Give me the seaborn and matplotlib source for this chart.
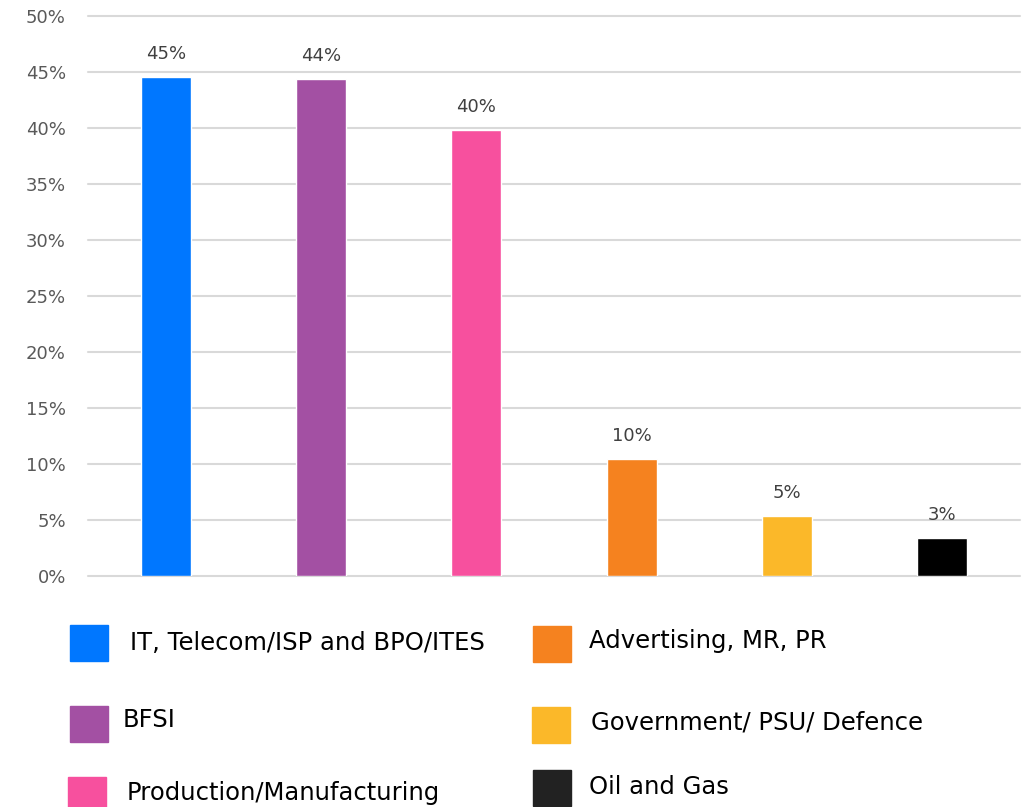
import matplotlib
matplotlib.use("Agg")
import matplotlib.pyplot as plt
import seaborn as sns
import pandas as pd
from matplotlib.patches import Rectangle

# --- data ---
categories = ["IT, Telecom/ISP and BPO/ITES", "BFSI", "Production/Manufacturing",
              "Advertising, MR, PR", "Government/ PSU/ Defence", "Oil and Gas"]
shares = [44.55, 44.4, 39.8, 10.45, 5.35, 3.4]
share_labels = ["45%", "44%", "40%", "10%", "5%", "3%"]
bar_colors = ["#0077FF", "#A350A3", "#F7509E", "#F5821F", "#FBB829", "#000000"]
swatch_colors = ["#0077FF", "#A350A3", "#F7509E", "#F5821F", "#FBB829", "#222222"]
y_ticks = [0, 5, 10, 15, 20, 25, 30, 35, 40, 45, 50]

df = pd.DataFrame({"Sector": categories, "Share": shares})

sns.set_theme(style="white")
plt.rcParams['font.family'] = ['DejaVu Sans']

W, H = 1026, 807
fig = plt.figure(figsize=(W / 100, H / 100), dpi=100)
ax = fig.add_axes([88 / W, 1 - 576 / H, (1020 - 88) / W, (576 - 16) / H])

sns.barplot(data=df, x="Sector", y="Share", hue="Sector", palette=bar_colors,
            width=0.32, saturation=1, legend=False, ax=ax, zorder=3)

ax.set_ylim(0, 50)
ax.set_xlim(-0.5, len(categories) - 0.5)
ax.set_yticks(y_ticks)
ax.set_yticklabels([f"{t}%" for t in y_ticks])
ax.yaxis.grid(True, color="#D9D9D9", linewidth=1.5, zorder=0)
for gl in ax.get_ygridlines():
    gl.set_clip_on(False)
ax.set_axisbelow(True)
ax.tick_params(axis="y", length=0, pad=16, labelsize=13, labelcolor="#595959")
ax.set_xticks([])
ax.set_xlabel("")
ax.set_ylabel("")
for s in ax.spines.values():
    s.set_visible(False)

# value labels on top of bars
for i, (v, lab) in enumerate(zip(shares, share_labels)):
    ax.annotate(lab, (i, v), xytext=(0, 10), textcoords="offset points",
                ha="center", va="bottom", fontsize=13, color="#404040")

# legend drawn by hand, two columns under the chart
swatch_pos = [(70, 625), (70, 706), (68, 777), (533, 626), (532, 707), (533, 770)]
text_pos = [(130, 643), (123, 720), (127, 793), (589, 641), (591, 723), (589, 787)]
for c, col, (sx, sy), (tx, ty) in zip(categories, swatch_colors, swatch_pos, text_pos):
    fig.patches.append(Rectangle((sx / W, 1 - (sy + 36) / H), 38 / W, 36 / H,
                                 transform=fig.transFigure, color=col))
    fig.text(tx / W, 1 - ty / H, c, ha="left", va="center", fontsize=17.5, color="#000000")

fig.savefig("out.png", dpi=100)
